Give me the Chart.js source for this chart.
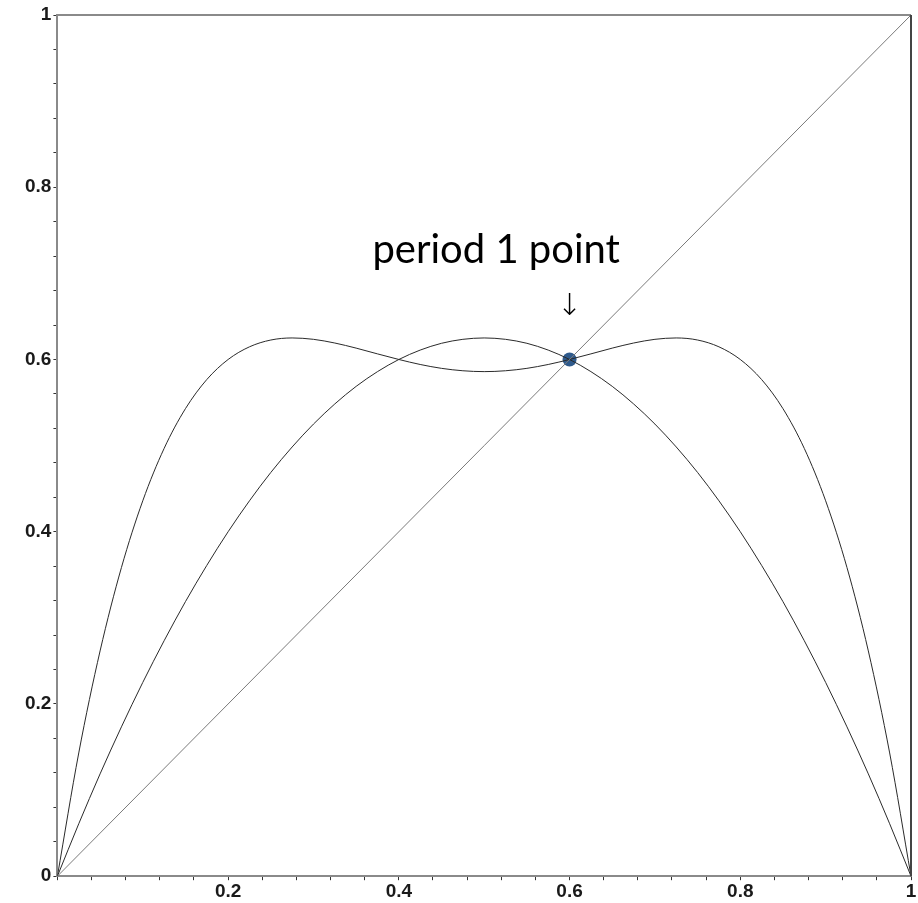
<!DOCTYPE html>
<html>
<head>
<meta charset="utf-8">
<script src="https://cdn.jsdelivr.net/npm/chart.js@4.4.1/dist/chart.umd.min.js"></script>
<style>
html,body{margin:0;padding:0;background:#fff;}
#wrap{width:918px;height:903px;}
</style>
</head>
<body>
<div id="wrap"><canvas id="c" width="918" height="903"></canvas></div>
<script>
// x positions of the sampled curve points
const xValues = [0,0.025,0.05,0.075,0.1,0.125,0.15,0.175,0.2,0.225,0.25,0.275,0.3,0.325,0.35,0.375,0.4,0.425,0.45,0.475,0.5,
  0.525,0.55,0.575,0.6,0.625,0.65,0.675,0.7,0.725,0.75,0.775,0.8,0.825,0.85,0.875,0.9,0.925,0.95,0.975,1];
// single-hump curve f(x)
const curve1 = [0,0.0609,0.1188,0.1734,0.225,0.2734,0.3188,0.3609,0.4,0.4359,0.4688,0.4984,0.525,0.5484,0.5688,0.5859,0.6,0.6109,0.6188,0.6234,0.625,
  0.6234,0.6188,0.6109,0.6,0.5859,0.5688,0.5484,0.525,0.4984,0.4688,0.4359,0.4,0.3609,0.3188,0.2734,0.225,0.1734,0.1188,0.0609,0];
// double-hump curve f(f(x))
const curve2 = [0,0.1431,0.2616,0.3584,0.4359,0.4967,0.5429,0.5767,0.6,0.6147,0.6226,0.6250,0.6234,0.6191,0.6132,0.6065,0.6,0.5942,0.5897,0.5869,0.5859,
  0.5869,0.5897,0.5942,0.6,0.6065,0.6132,0.6191,0.6234,0.6250,0.6226,0.6147,0.6,0.5767,0.5429,0.4967,0.4359,0.3584,0.2616,0.1431,0];
// diagonal y = x
const diagX = [0,1];
const diagY = [0,1];
// fixed point
const fixedX = [0.6];
const fixedY = [0.6];
// axis ticks
const majorStep = 0.2;
const minorStep = 0.04;
const annotationText = "period 1 point";
const arrowText = "\u2193";

const toPts = (xs, ys) => xs.map((x, i) => ({x: x, y: ys[i]}));

const frame = {
  id: 'frame',
  afterDraw(chart) {
    const {ctx, chartArea: a, scales} = chart;
    ctx.save();
    ctx.lineWidth = 2;
    ctx.strokeStyle = '#8a8a8a';
    ctx.beginPath();
    ctx.moveTo(a.left, a.top); ctx.lineTo(a.right, a.top);
    ctx.stroke();
    ctx.strokeStyle = '#444';
    ctx.beginPath();
    ctx.moveTo(a.right, a.top); ctx.lineTo(a.right, a.bottom);
    ctx.stroke();
    // annotation text
    const tx = scales.x.getPixelForValue(0.514);
    const ty = scales.y.getPixelForValue(0.7116);
    ctx.fillStyle = '#000';
    ctx.font = '40px Lato';
    ctx.textAlign = 'center';
    ctx.textBaseline = 'alphabetic';
    ctx.fillText(annotationText, tx, ty);
    const ax = scales.x.getPixelForValue(0.6);
    const ay = scales.y.getPixelForValue(0.6605);
    ctx.font = '200 30px "DejaVu Sans"';
    ctx.textBaseline = 'middle';
    ctx.fillText(arrowText, ax, ay);
    ctx.restore();
  }
};

const isMajor = v => Math.abs(v / majorStep - Math.round(v / majorStep)) < 1e-6;

new Chart(document.getElementById('c'), {
  type: 'line',
  data: {
    datasets: [
      {data: toPts(diagX, diagY), borderColor: '#7a7a7a', borderWidth: 1, pointRadius: 0, tension: 0},
      {data: toPts(xValues, curve1), borderColor: '#2a2a2a', borderWidth: 1, pointRadius: 0, cubicInterpolationMode: 'monotone'},
      {data: toPts(xValues, curve2), borderColor: '#2a2a2a', borderWidth: 1, pointRadius: 0, cubicInterpolationMode: 'monotone'},
      {data: toPts(fixedX, fixedY), showLine: false, pointRadius: 7, pointBackgroundColor: '#2f5a8c', pointBorderColor: '#2f5a8c', pointBorderWidth: 0},
      {data: toPts(fixedX, fixedY), showLine: false, pointRadius: 1.5, pointBackgroundColor: '#000', pointBorderColor: '#000', pointBorderWidth: 0}
    ]
  },
  options: {
    responsive: false,
    animation: false,
    layout: {padding: {top: 15, right: 4, bottom: 0, left: 23}},
    plugins: {legend: {display: false}, tooltip: {enabled: false}},
    scales: {
      x: {
        type: 'linear', min: 0, max: 1,
        afterFit: s => { s.paddingRight = 0; },
        border: {display: true, color: '#8a8a8a', width: 2},
        grid: {drawOnChartArea: false, drawTicks: true, tickLength: 4, color: '#333'},
        ticks: {
          stepSize: minorStep, autoSkip: false, maxRotation: 0, padding: 0,
          color: '#1a1a1a', font: {family: 'Liberation Sans', weight: 'bold', size: 19},
          callback: v => (isMajor(v) && v > 1e-6) ? String(+v.toFixed(1)) : ''
        }
      },
      y: {
        type: 'linear', min: 0, max: 1,
        afterFit: s => { s.paddingTop = 0; },
        border: {display: true, color: '#8a8a8a', width: 2},
        grid: {drawOnChartArea: false, drawTicks: true, tickLength: 4, color: '#333'},
        ticks: {
          stepSize: minorStep, autoSkip: false, padding: 2,
          color: '#1a1a1a', font: {family: 'Liberation Sans', weight: 'bold', size: 19},
          callback: v => isMajor(v) ? String(+v.toFixed(1)) : ''
        }
      }
    }
  },
  plugins: [frame]
});
</script>
</body>
</html>
